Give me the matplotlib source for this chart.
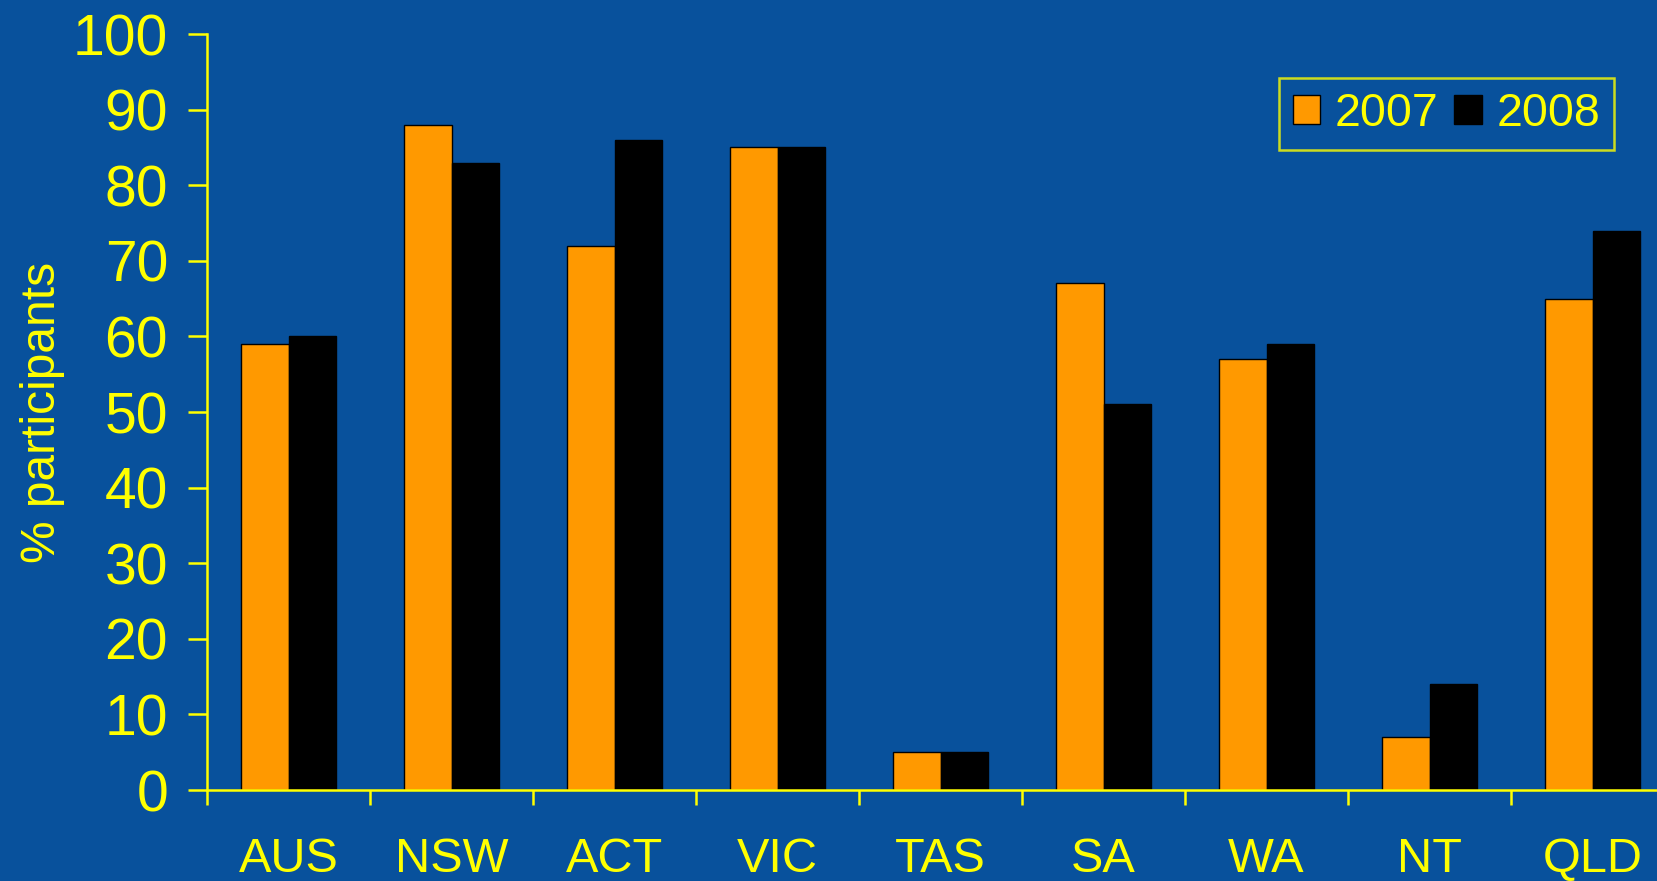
import numpy as np
import matplotlib
matplotlib.use('Agg')
import matplotlib.pyplot as plt
from matplotlib.ticker import FixedLocator

# data
states = ['AUS', 'NSW', 'ACT', 'VIC', 'TAS', 'SA', 'WA', 'NT', 'QLD']
pct_2007 = [59, 88, 72, 85, 5, 67, 57, 7, 65]
pct_2008 = [60, 83, 86, 85, 5, 51, 59, 14, 74]
yticks = [0, 10, 20, 30, 40, 50, 60, 70, 80, 90, 100]

bg = '#08519c'
yellow = '#ffff00'
orange = '#ff9900'

plt.rcParams['font.family'] = ['Liberation Sans', 'DejaVu Sans']

fig = plt.figure(figsize=(16.57, 8.81), dpi=100, facecolor=bg)
ax = fig.add_axes([207 / 1657, 1 - 790 / 881, 1467 / 1657, (790 - 34) / 881])
ax.set_facecolor(bg)

x = np.arange(len(states))
w = 0.29
ax.bar(x - w / 2, pct_2007, w, color=orange, edgecolor='black', linewidth=1, label='2007', zorder=2)
ax.bar(x + w / 2, pct_2008, w, color='black', edgecolor='black', linewidth=1, label='2008', zorder=2)

ax.set_xlim(-0.5, len(states) - 0.5)
ax.set_ylim(0, 100)
ax.set_yticks(yticks)
ax.set_xticks(x)
ax.set_xticklabels(states)
ax.xaxis.set_minor_locator(FixedLocator(np.arange(-0.5, len(states), 1.0)))

for s in ['top', 'right']:
    ax.spines[s].set_visible(False)
for s in ['left', 'bottom']:
    ax.spines[s].set_color(yellow)
    ax.spines[s].set_linewidth(1.8)
    ax.spines[s].set_zorder(3)

ax.tick_params(axis='y', colors=yellow, labelsize=41, length=14, width=1.8, pad=14)
ax.tick_params(axis='x', which='major', colors=yellow, labelsize=35, length=0, pad=34)
ax.tick_params(axis='x', which='minor', colors=yellow, length=11, width=1.8)

ax.set_ylabel('% participants', color=yellow, fontsize=34.5)
ax.yaxis.set_label_coords(-(207 - 65) / 1467, 0.5)

leg = ax.legend(ncol=2, fontsize=33.5, frameon=True, fancybox=False,
                handlelength=0.6, handleheight=0.6, handletextpad=0.3, columnspacing=0.35,
                borderpad=0.3, borderaxespad=0, loc='upper right')
leg.get_frame().set_facecolor(bg)
leg.get_frame().set_edgecolor(yellow)
leg.get_frame().set_linewidth(1.8)
for t in leg.get_texts():
    t.set_color(yellow)
# place the legend box by figure coordinates
leg.set_bbox_to_anchor((1614 / 1657, 1 - 78 / 881), transform=fig.transFigure)

fig.savefig('out.png', dpi=100, facecolor=bg)
